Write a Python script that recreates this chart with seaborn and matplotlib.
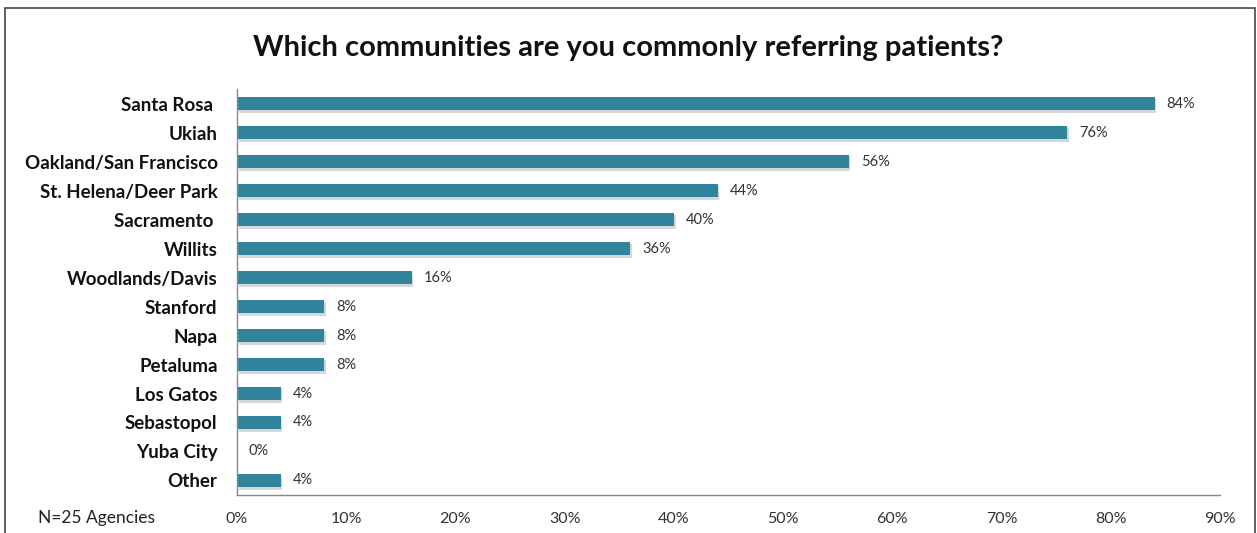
import matplotlib
matplotlib.use("Agg")
import matplotlib.pyplot as plt
import matplotlib.patches as mpatches
import matplotlib.patheffects as pe
import seaborn as sns
import pandas as pd
import numpy as np

communities = ["Santa Rosa ", "Ukiah", "Oakland/San Francisco", "St. Helena/Deer Park",
               "Sacramento ", "Willits", "Woodlands/Davis", "Stanford", "Napa",
               "Petaluma", "Los Gatos", "Sebastopol", "Yuba City", "Other"]
percent = [84, 76, 56, 44, 40, 36, 16, 8, 8, 8, 4, 4, 0, 4]
x_ticks = [0, 10, 20, 30, 40, 50, 60, 70, 80, 90]
x_tick_labels = [f"{t}%" for t in x_ticks]

df = pd.DataFrame({"community": communities, "percent": percent})

sns.set_style("white")
plt.rcParams["font.family"] = ["Lato", "DejaVu Sans"]

fig = plt.figure(figsize=(12.57, 5.33), dpi=100)
ax = fig.add_axes([0.1885, 0.0713, 0.9706 - 0.1885, 0.833 - 0.0713])

bar_color = "#31849B"
sns.barplot(data=df, y="community", x="percent", orient="h", color=bar_color,
            width=0.48, saturation=1, ax=ax, edgecolor="none")
for p in ax.patches:
    p.set_path_effects([pe.SimplePatchShadow(offset=(1.2, -1.5), shadow_rgbFace="#a9b4b8", alpha=0.5),
                        pe.Normal()])

ax.set_xlim(0, 90)
ax.set_ylim(len(communities) - 0.5, -0.5)
ax.set_xticks(x_ticks)
ax.set_xticklabels(x_tick_labels, fontsize=11.5, color="#333333")
ax.set_xlabel("")
ax.set_ylabel("")
ax.tick_params(axis="y", length=0, pad=14)
for lbl in ax.get_yticklabels():
    lbl.set_fontweight("bold")
    lbl.set_fontsize(13.5)
    lbl.set_color("#111111")

# category separator ticks on the value axis
ax.set_yticks(np.arange(len(communities) + 1) - 0.5, minor=True)
ax.tick_params(axis="y", which="minor", length=5, color="#888888", direction="out", width=1)
ax.tick_params(axis="x", length=4, color="#888888", direction="in", width=1, pad=12)

for side in ["top", "right"]:
    ax.spines[side].set_visible(False)
for side in ["left", "bottom"]:
    ax.spines[side].set_color("#888888")
    ax.spines[side].set_linewidth(1)

for i, v in enumerate(percent):
    ax.text(v + 1.1, i, f"{v}%", va="center", ha="left", fontsize=10.5, color="#333333")

fig.text(0.5, 0.91, "Which communities are you commonly referring patients?",
         ha="center", va="center", fontsize=21, fontweight="bold", color="#111111")
fig.text(0.03, 0.028, "N=25 Agencies", ha="left", va="center", fontsize=12.5, color="#222222")

border = mpatches.Rectangle((5 / 1257, -0.01), 1250 / 1257, 1 - 8 / 533 + 0.01,
                            transform=fig.transFigure, fill=False,
                            edgecolor="#444444", linewidth=1.2)
fig.patches.append(border)

fig.savefig("out.png", dpi=100)
